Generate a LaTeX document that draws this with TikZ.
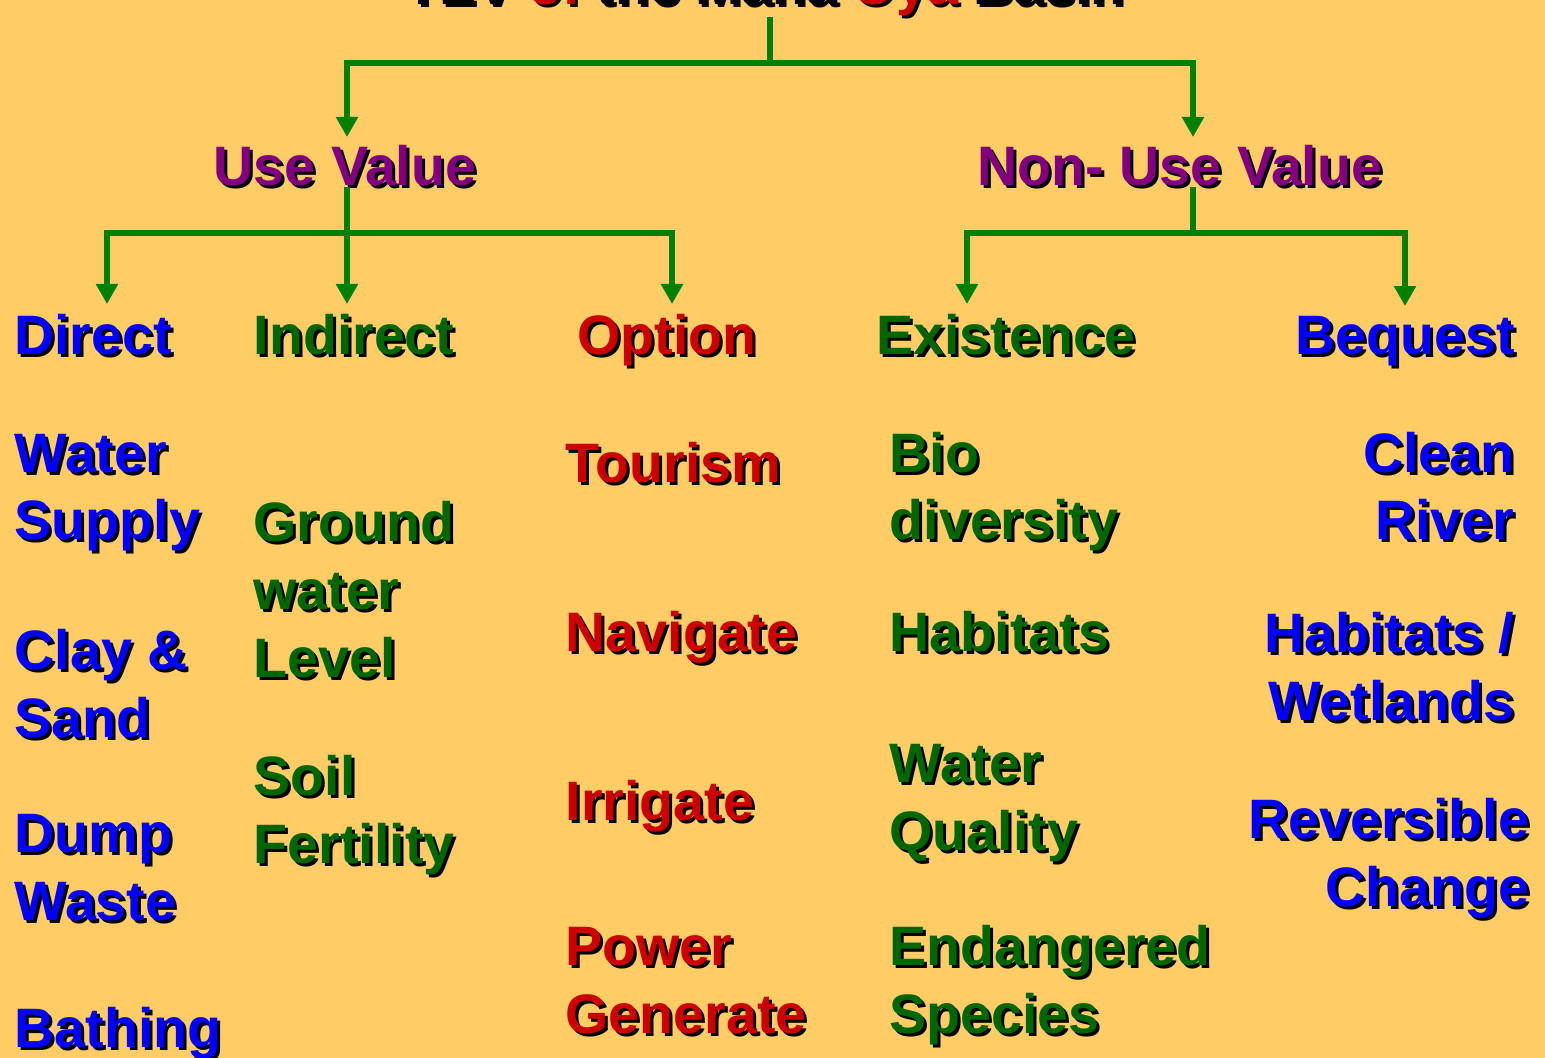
\documentclass[tikz,border=0pt]{standalone}
\usepackage{fontspec}
\setmainfont{Liberation Sans}
\usetikzlibrary{arrows.meta}

\definecolor{paper}{HTML}{FFCC66}
\definecolor{branch}{HTML}{008000}
\definecolor{headpurple}{HTML}{800080}
\definecolor{useblue}{HTML}{0000FF}
\definecolor{leafgreen}{HTML}{006600}
\definecolor{optred}{HTML}{CC0000}

\newcommand{\hot}[1]{\textcolor{optred}{#1}}
% text with a black drop shadow: name, options, position (last baseline), colour, text
\newcommand{\shtext}[5]{%
  \node[lbl,#2,text=black,execute at begin node={\let\hot\relax}] at ([shift={(3,3)}]#3) {#5};
  \node[lbl,#2,text=#4] (#1) at (#3) {#5};}

\begin{document}
\begin{tikzpicture}[x=0.01cm,y=-0.01cm,
    lbl/.style={font=\bfseries\fontsize{15.8}{19.3}\selectfont,inner sep=0pt,align=left},
    line/.style={draw=branch,line width=1.5pt},
    link/.style={line,-{Triangle[length=5.7pt,width=6pt]}}]
  \fill[paper] (0,0) rectangle (1545,1058);
  \useasboundingbox (0,0) rectangle (1545,1058);
  % title, mostly above the page
  \shtext{title}{anchor=base}{765,5}{black}{TEV \hot{of} the Maha \hot{Oya} Basin}
  \shtext{use}{anchor=base}{345,186}{headpurple}{Use Value}
  \shtext{nonuse}{anchor=base}{1180,186}{headpurple}{Non- Use Value}
  \foreach \n/\x/\c/\t in {direct/93/useblue/Direct, indirect/354/leafgreen/Indirect,
      option/667/optred/Option, existence/1006/leafgreen/Existence, bequest/1405/useblue/Bequest}
    {\shtext{\n}{anchor=base}{\x,355}{\c}{\t}}
  % tree
  \coordinate (fork) at (770,63);
  \coordinate (usefork) at (347,233);
  \coordinate (nonfork) at (1193,233);
  \draw[link] (title.south -| fork) -- (fork) -| ([shift={(2,-8)}]use.north);
  \draw[link] (fork) -| ([shift={(13,-8)}]nonuse.north);
  \foreach \n/\dx in {direct/14,indirect/-7,option/5}
    \draw[link] (use.south -| usefork) -- (usefork) -| ([shift={(\dx,-10)}]\n.north);
  \foreach \n/\dx in {existence/-39,bequest/0}
    \draw[link] (nonuse.south -| nonfork) -- (nonfork) -| ([shift={(\dx,-10)}]\n.north);
  % examples
  \foreach \n/\y/\t in {water/540/{Water\\Supply}, clay/737/{Clay \&\\Sand},
      dump/920/{Dump\\Waste}, bathing/1047/Bathing}
    {\shtext{\n}{anchor=base west}{14,\y}{useblue}{\t}}
  \foreach \n/\y/\t in {ground/677/{Ground\\water\\Level}, soil/863/{Soil\\Fertility}}
    {\shtext{\n}{anchor=base west}{253,\y}{leafgreen}{\t}}
  \foreach \n/\y/\t in {tourism/483/Tourism, navigate/652/Navigate,
      irrigate/820/Irrigate, power/1033/{Power\\Generate}}
    {\shtext{\n}{anchor=base west}{565,\y}{optred}{\t}}
  \foreach \n/\y/\t in {bio/540/{Bio\\diversity}, habitats/652/Habitats,
      quality/850/{Water\\Quality}, endangered/1033/{Endangered\\Species}}
    {\shtext{\n}{anchor=base west}{889,\y}{leafgreen}{\t}}
  \foreach \n/\x/\y/\t in {clean/1515/540/{Clean\\River}, wetlands/1515/720/{Habitats /\\Wetlands},
      reversible/1530/906/{Reversible\\Change}}
    {\shtext{\n}{anchor=base east,align=right}{\x,\y}{useblue}{\t}}
\end{tikzpicture}
\end{document}
